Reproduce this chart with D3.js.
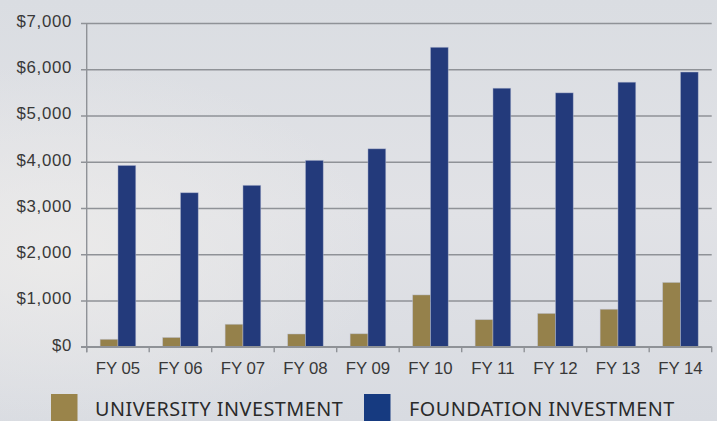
<!DOCTYPE html>
<html>
<head>
<meta charset="utf-8">
<script src="https://cdn.jsdelivr.net/npm/d3@7/dist/d3.min.js"></script>
<style>
  html, body { margin: 0; padding: 0; }
  body { width: 717px; height: 421px; overflow: hidden; }
  svg { display: block; font-family: "Noto Sans", "Open Sans", sans-serif; }
</style>
</head>
<body>
<svg id="chart" width="717" height="421"></svg>
<script>
const categories = ["FY 05", "FY 06", "FY 07", "FY 08", "FY 09", "FY 10", "FY 11", "FY 12", "FY 13", "FY 14"];
const seriesNames = ["UNIVERSITY INVESTMENT", "FOUNDATION INVESTMENT"];
const universityInvestment = [160, 200, 485, 275, 280, 1120, 585, 720, 810, 1390];
const foundationInvestment = [3920, 3330, 3490, 4030, 4280, 6475, 5590, 5490, 5720, 5940];
const yTicks = [0, 1000, 2000, 3000, 4000, 5000, 6000, 7000];
const barColors = ["#95814b", "#233a7b"];
const legendColors = ["#9a844a", "#163a80"];

(function () {
const svg = d3.select("#chart");
const W = 717, H = 421;

// background
const defs = svg.append("defs");
const bg = defs.append("linearGradient").attr("id", "bg").attr("x1", 0).attr("y1", 0).attr("x2", 0).attr("y2", 1);
bg.append("stop").attr("offset", "0%").attr("stop-color", "#dadde2");
bg.append("stop").attr("offset", "50%").attr("stop-color", "#e1e2e6");
bg.append("stop").attr("offset", "100%").attr("stop-color", "#d8dbe1");
const spot = defs.append("radialGradient").attr("id", "spot").attr("cx", 0.08).attr("cy", 0.6).attr("r", 0.45);
spot.append("stop").attr("offset", "0%").attr("stop-color", "#ecebea").attr("stop-opacity", 0.9);
spot.append("stop").attr("offset", "100%").attr("stop-color", "#ecebea").attr("stop-opacity", 0);
svg.append("rect").attr("width", W).attr("height", H).attr("fill", "url(#bg)");
svg.append("rect").attr("width", W).attr("height", H).attr("fill", "url(#spot)");

const mLeft = 86.7, mRight = 711.7, mTop = 23, mBottom = 346.7;

const x0 = d3.scaleBand().domain(categories).range([mLeft, mRight]).paddingInner(0).paddingOuter(0);
const bw = x0.bandwidth();
const x1 = d3.scaleBand().domain(seriesNames).range([bw * 0.215, bw * 0.785]).padding(0);
const y = d3.scaleLinear().domain([0, 7000]).range([mBottom, mTop]);

const gridColor = "#8f9297";
const textColor = "#383838";

// gridlines + y axis labels
const yAxis = d3.axisLeft(y).tickValues(yTicks).tickSize(-(mRight - mLeft)).tickPadding(9)
  .tickFormat(d => "$" + d3.format(",")(d));
const gy = svg.append("g").attr("transform", `translate(${mLeft},0)`).call(yAxis);
gy.select(".domain").remove();
gy.selectAll(".tick line").attr("x1", -5.7).attr("stroke", gridColor).attr("stroke-width", 1.4);
gy.selectAll(".tick text").attr("fill", textColor).attr("font-size", "16.8px")
  .attr("letter-spacing", "0.7px")
  .attr("x", -14.7).attr("dy", "0.2em");

// vertical axis line
svg.append("line").attr("x1", mLeft).attr("x2", mLeft).attr("y1", mTop).attr("y2", mBottom + 5.5)
  .attr("stroke", gridColor).attr("stroke-width", 1.4);

// x axis
const xAxis = d3.axisBottom(x0).tickSize(0).tickPadding(14);
const gx = svg.append("g").attr("transform", `translate(0,${mBottom})`).call(xAxis);
gx.select(".domain").remove();
gx.selectAll(".tick text").attr("fill", textColor).attr("font-size", "16.8px").attr("dy", "0.82em");
// category separator ticks
const sepPositions = categories.map(c => x0(c)).concat([x0(categories[categories.length - 1]) + bw]);
svg.append("g").selectAll("line").data(sepPositions).join("line")
  .attr("x1", d => d).attr("x2", d => d).attr("y1", mBottom).attr("y2", mBottom + 5.5)
  .attr("stroke", gridColor).attr("stroke-width", 1.4);

// bars
const rows = categories.map((c, i) => ({ cat: c, vals: [universityInvestment[i], foundationInvestment[i]] }));
const groups = svg.append("g").selectAll("g").data(rows).join("g")
  .attr("transform", d => `translate(${x0(d.cat)},0)`);
groups.selectAll("rect").data(d => d.vals.map((v, k) => ({ key: seriesNames[k], v, k })))
  .join("rect")
  .attr("x", d => x1(d.key))
  .attr("width", x1.bandwidth())
  .attr("y", d => y(d.v))
  .attr("height", d => y(0) - y(d.v))
  .attr("fill", d => barColors[d.k])
  .attr("stroke", "rgba(190,195,215,0.55)")
  .attr("stroke-width", 0.8);

// x baseline
svg.append("line").attr("x1", mLeft - 5.7).attr("x2", mRight).attr("y1", mBottom).attr("y2", mBottom)
  .attr("stroke", gridColor).attr("stroke-width", 1.4);

// legend
const legendItems = [
  { name: seriesNames[0], color: legendColors[0], sx: 51, tx: 95 },
  { name: seriesNames[1], color: legendColors[1], sx: 364, tx: 409 }
];
const lg = svg.append("g");
legendItems.forEach(it => {
  lg.append("rect").attr("x", it.sx).attr("y", 394).attr("width", 26.5).attr("height", 30).attr("fill", it.color);
  lg.append("text").attr("x", it.tx).attr("y", 415.7).attr("fill", "#2a2a2a")
    .attr("font-size", "19.8px").attr("letter-spacing", "0.5px").text(it.name);
});
})();
</script>
</body>
</html>
